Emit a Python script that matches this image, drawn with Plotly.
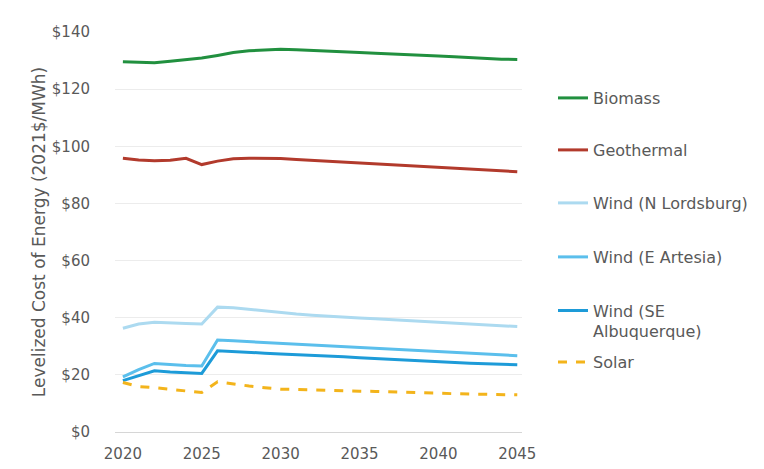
import plotly.graph_objects as go

years = list(range(2020, 2046))

biomass = [129.6, 129.3, 129.2, 129.8, 130.4, 130.9, 131.8, 132.8, 133.4, 133.8, 134.0, 133.8, 133.5,
           133.2, 133.0, 132.8, 132.6, 132.4, 132.2, 131.9, 131.6, 131.3, 131.0, 130.7, 130.5, 130.4]
geothermal = [95.8, 95.2, 94.9, 95.1, 95.8, 93.6, 94.8, 95.6, 95.8, 95.8, 95.7, 95.4, 95.1,
              94.8, 94.5, 94.2, 93.9, 93.6, 93.3, 93.0, 92.7, 92.4, 92.1, 91.8, 91.4, 91.1]
wind_n_lordsburg = [36.3, 37.8, 38.4, 38.3, 38.0, 37.8, 43.7, 43.5, 42.9, 42.3, 41.7, 41.3, 40.9,
                    40.5, 40.2, 39.9, 39.6, 39.3, 39.0, 38.7, 38.4, 38.1, 37.8, 37.5, 37.2, 36.9]
wind_e_artesia = [19.3, 21.8, 24.0, 23.6, 23.3, 23.1, 32.2, 31.9, 31.6, 31.3, 31.0, 30.8, 30.6,
                  30.3, 30.0, 29.7, 29.4, 29.1, 28.8, 28.5, 28.2, 27.9, 27.6, 27.3, 27.0, 26.7]
wind_se_albuquerque = [18.0, 19.8, 21.4, 21.0, 20.7, 20.5, 28.4, 28.2, 27.9, 27.6, 27.3, 27.1, 26.8,
                       26.6, 26.3, 26.0, 25.7, 25.4, 25.2, 24.9, 24.6, 24.4, 24.1, 23.9, 23.7, 23.5]
solar = [17.3, 15.9, 15.5, 14.9, 14.2, 13.8, 17.6, 16.8, 16.1, 15.5, 15.0, 14.9, 14.7,
         14.5, 14.4, 14.3, 14.2, 14.0, 13.9, 13.7, 13.6, 13.4, 13.3, 13.2, 13.1, 13.0]

series_names = ["Biomass", "Geothermal", "Wind (N Lordsburg)", "Wind (E Artesia)",
                "Wind (SE<br>Albuquerque)", "Solar"]
series_values = [biomass, geothermal, wind_n_lordsburg, wind_e_artesia, wind_se_albuquerque, solar]

y_tickvals = [0, 20, 40, 60, 80, 100, 120, 140]
y_ticktext = ["$0", "$20", "$40", "$60", "$80", "$100", "$120", "$140"]
x_tickvals = [2020, 2025, 2030, 2035, 2040, 2045]

colors = ["#21903f", "#b23a2c", "#acdaf0", "#5bbfec", "#1d9bd8", "#f3b41b"]
dashes = ["solid", "solid", "solid", "solid", "solid", "dash"]
legend_ids = ["legend", "legend2", "legend3", "legend4", "legend5", "legend6"]
legend_px_y = [98, 150, 203, 257, 321, 362]

FONT = "DejaVu Sans"
TXT = "#595959"

fig = go.Figure()
for name, vals, col, dsh, lid in zip(series_names, series_values, colors, dashes, legend_ids):
    fig.add_trace(go.Scatter(
        x=years, y=vals, mode="lines", name=name,
        line=dict(color=col, width=3, dash=dsh),
        legend=lid, showlegend=True,
    ))

layout_legends = {}
for i, (lid, py) in enumerate(zip(legend_ids, legend_px_y)):
    layout_legends[lid] = dict(
        x=553 / 764, y=1 - py / 469, xref="container", yref="container",
        xanchor="left", yanchor="middle",
        font=dict(family=FONT, size=16, color=TXT),
        bgcolor="rgba(0,0,0,0)", borderwidth=0,
        valign="top" if i == 4 else "middle",
    )

fig.update_layout(
    width=764, height=469, showlegend=True,
    margin=dict(l=115, r=242, t=32, b=37, autoexpand=False),
    paper_bgcolor="white", plot_bgcolor="white",
    font=dict(family=FONT, size=15, color=TXT),
    **layout_legends,
)

fig.update_xaxes(
    range=[2019.5, 2045.3], tickvals=x_tickvals, showgrid=False, zeroline=False,
    showline=True, linecolor="#d6d6d6", linewidth=1,
    ticks="outside", ticklen=8, tickcolor="rgba(0,0,0,0)",
    tickfont=dict(family=FONT, size=15, color=TXT),
)
fig.update_yaxes(
    range=[0, 140], tickvals=y_tickvals, ticktext=y_ticktext,
    showgrid=True, gridcolor="#ececec", gridwidth=1, zeroline=False,
    ticklabelstandoff=24,
    tickfont=dict(family=FONT, size=15, color=TXT),
    title=dict(text="Levelized Cost of Energy (2021$/MWh)",
               font=dict(family=FONT, size=17, color=TXT), standoff=1),
)

fig.write_html("out.html", config={"displayModeBar": False},
               post_script="document.body.style.margin='0';")
